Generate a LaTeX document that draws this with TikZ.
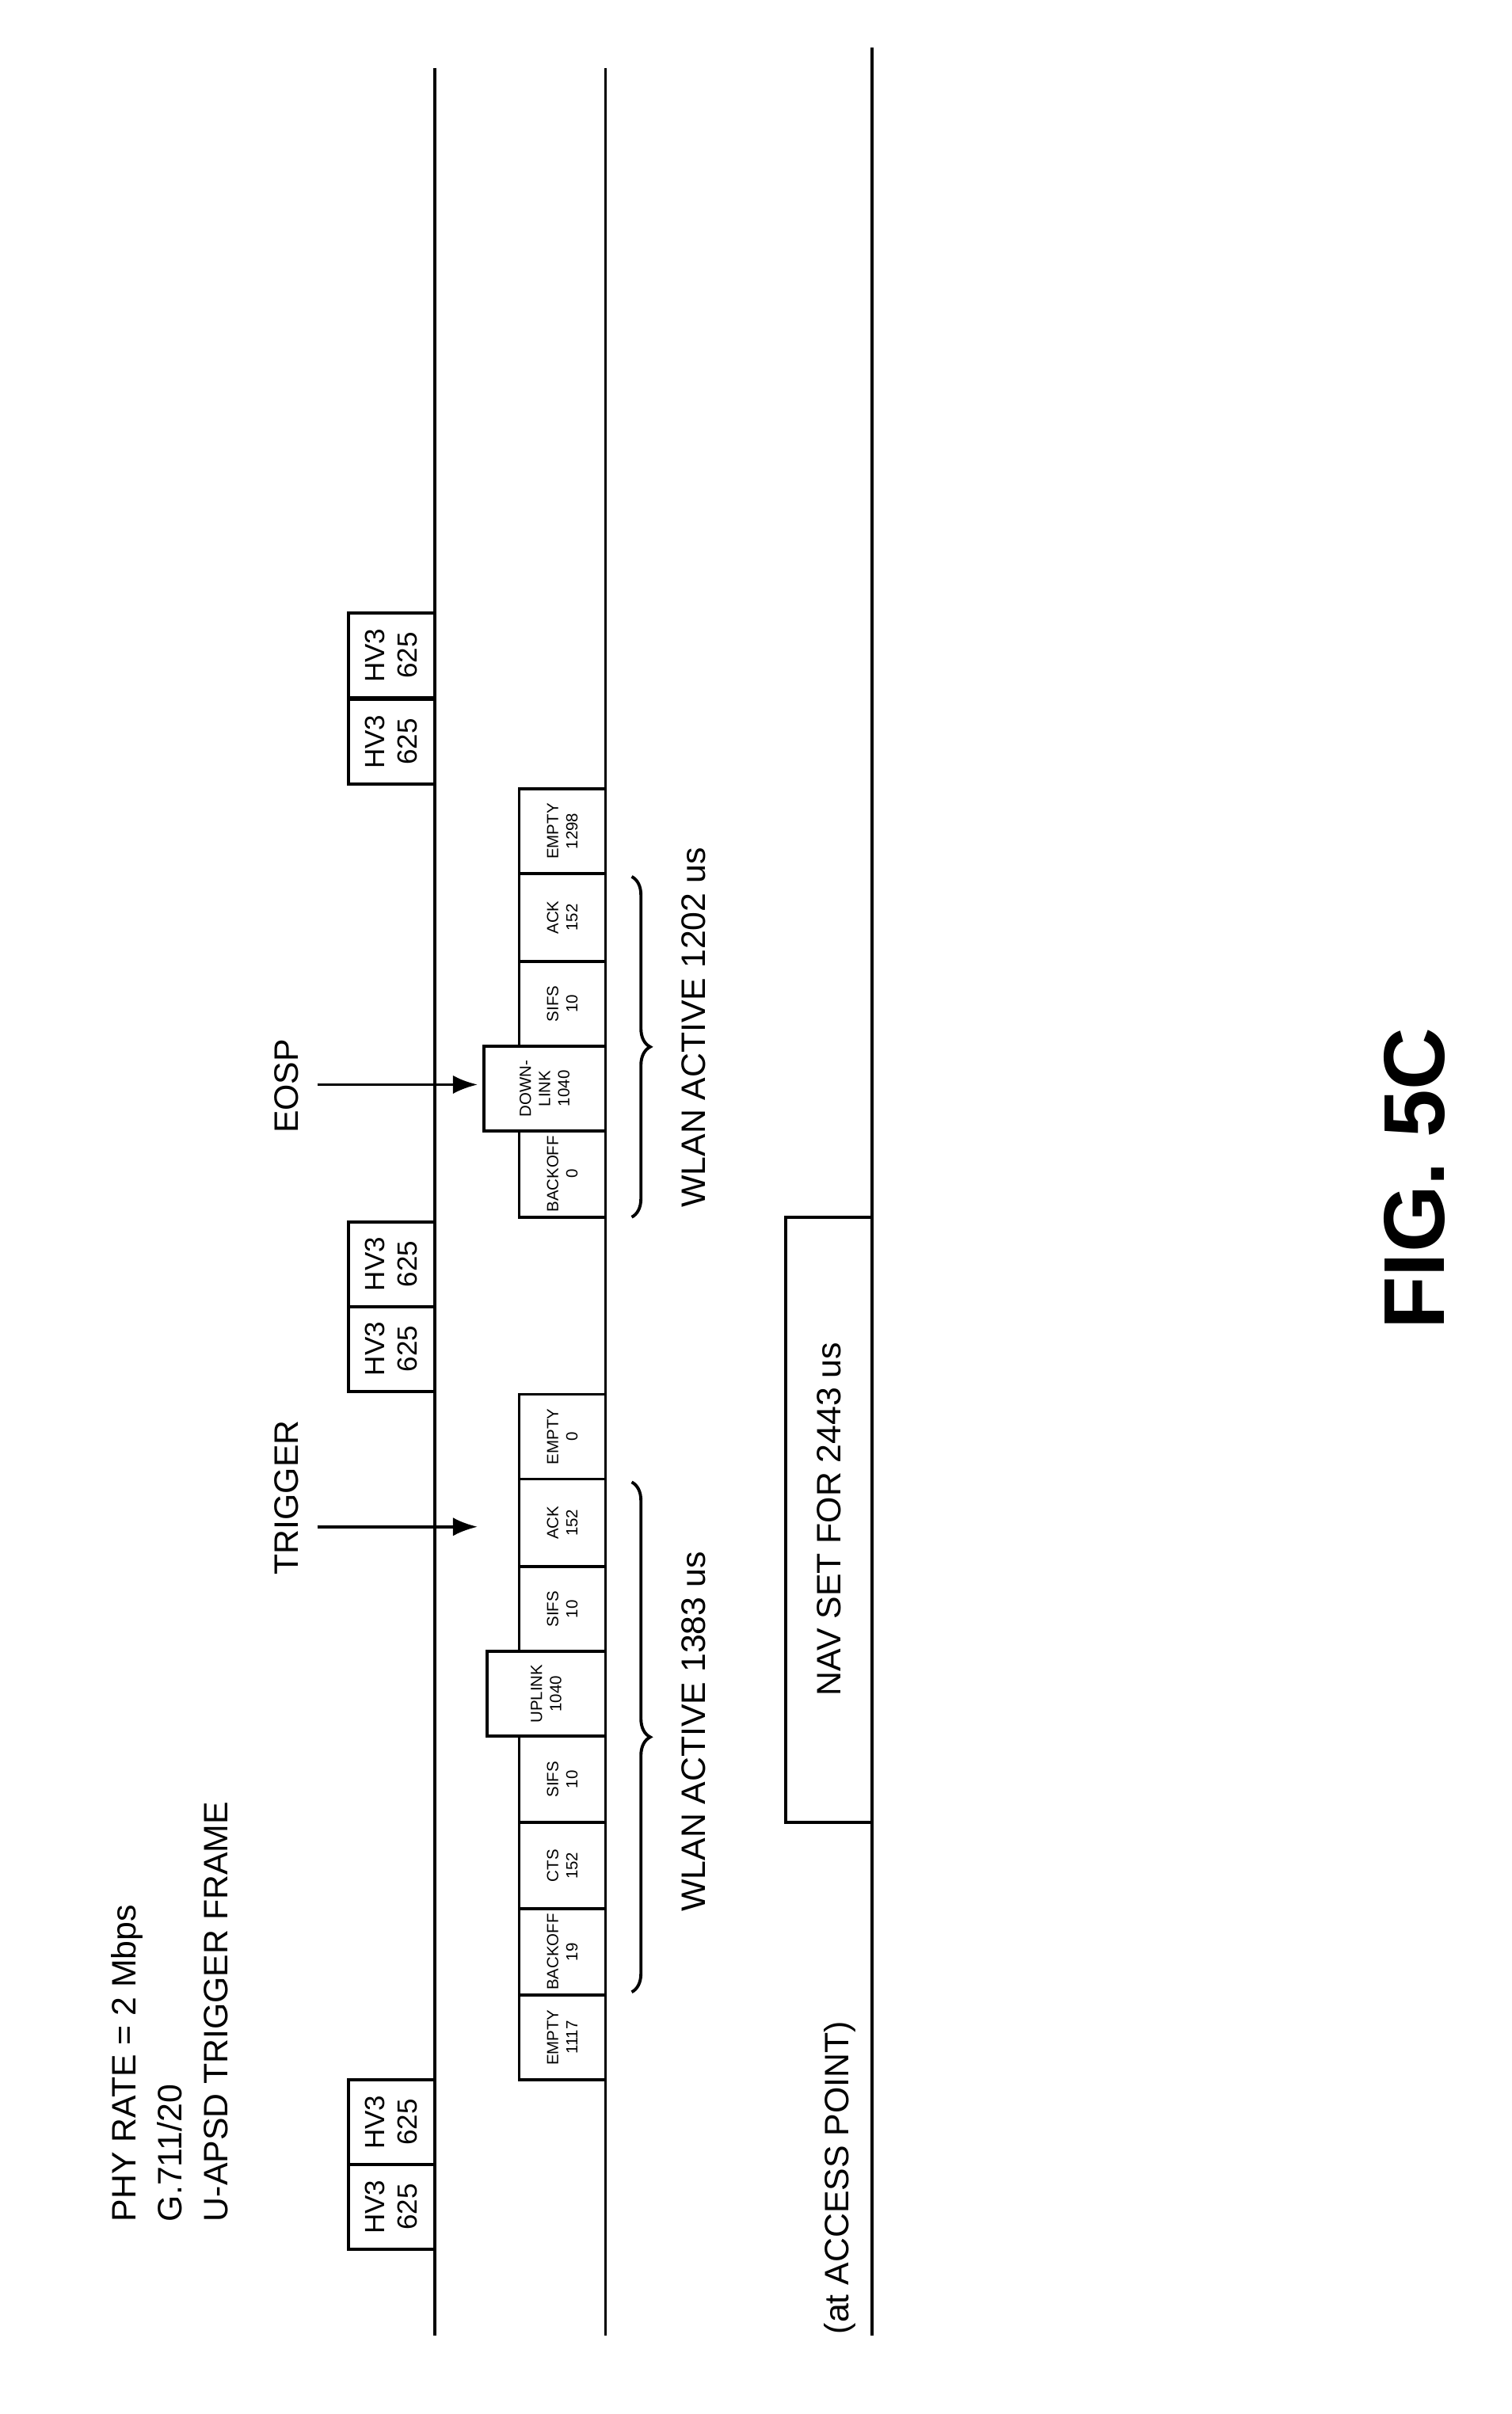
\documentclass[tikz,border=0pt]{standalone}
\usepackage{fontspec}
\setmainfont{Liberation Sans}
\usetikzlibrary{decorations.pathreplacing,arrows.meta}
\begin{document}
\begin{tikzpicture}[x=1pt,y=-1pt,line width=2pt,
 lbl/.style={rotate=90,font=\fontsize{22}{26}\selectfont,inner sep=0pt},
 sm/.style={rotate=90,font=\fontsize{10.5}{12.5}\selectfont,align=center,inner sep=0pt},
 arr/.style={-{Latex[length=16pt,width=12pt]},line width=2pt}]
\useasboundingbox (0,0) rectangle (981.3,1566.9);
\fill[white] (0,0) rectangle (981.3,1566.9);
% timelines
\draw (282,44) coordinate (l1a) -- (282,1516) coordinate (l1b);
\draw (393,44) coordinate (l2a) -- (393,1516) coordinate (l2b);
\draw (566,31) coordinate (l3a) -- (566,1516) coordinate (l3b);
% HV3 boxes
\begin{scope}[shift={(0,0)}]
\foreach \y/\n in {1350/a,1405/b,793/c,848/d,398/e,454/f}{
 \draw (226,\y) rectangle (282,\y+55);
 \node[sm,font=\fontsize{18}{21}\selectfont] (hv\n) at (254,\y+27.5) {HV3\\625};
}
\end{scope}
% small boxes
\foreach \ya/\yb/\t/\n in {1295/1350/{EMPTY\\1117}/b1,1239/1295/{BACKOFF\\19}/b2,1183/1239/{CTS\\152}/b3,1127/1183/{SIFS\\10}/b4,1017/1072/{SIFS\\10}/b6,960/1017/{ACK\\152}/b7,905/960/{EMPTY\\0}/b8,734/790/{BACKOFF\\0}/c1,624/679/{SIFS\\10}/c3,567/624/{ACK\\152}/c4,512/567/{EMPTY\\1298}/c5}{
 \draw (337,\ya) rectangle (393,\yb);
 \node[sm] (\n) at (365,{(\ya+\yb)/2}) {\t};
}
\draw (316,1072) rectangle (393,1127);
\node[sm] (b5) at (354.5,1099.5) {UPLINK\\1040};
\draw (314,679) rectangle (393,734);
\node[sm] (c2) at (353.5,706.5) {DOWN-\\LINK\\1040};
% braces
\draw[decorate,decoration={brace,amplitude=12pt}] (410,962) -- (410,1293);
\node[lbl] (w1) at (450,1124) {WLAN ACTIVE 1383 us};
\draw[decorate,decoration={brace,amplitude=12pt}] (410,569) -- (410,790);
\node[lbl] (w2) at (450,667) {WLAN ACTIVE 1202 us};
% NAV
\draw (510,790) rectangle (566,1183);
\node[lbl] (nav) at (538,986) {NAV SET FOR 2443 us};
\node[lbl,anchor=west] (ap) at (545,1516) {(at ACCESS POINT)};
% header
\node[lbl,anchor=north west,align=left,font=\fontsize{22}{30}\selectfont] (hdr) at (71,1443) {PHY RATE = 2 Mbps\\G.711/20\\U-APSD TRIGGER FRAME};
% trigger / eosp
\node[lbl] (trig) at (186,972) {TRIGGER};
\coordinate (t1) at (206,991); \coordinate (t2) at (310,991);
\draw[arr] (t1) -- (t2);
\node[lbl] (eosp) at (186,705) {EOSP};
\coordinate (e1) at (206,704); \coordinate (e2) at (310,704);
\draw[arr] (e1) -- (e2);
% fig
\node[lbl,font=\fontsize{56}{60}\selectfont\bfseries] (fig) at (918,765) {FIG. 5C};
\end{tikzpicture}
\end{document}
